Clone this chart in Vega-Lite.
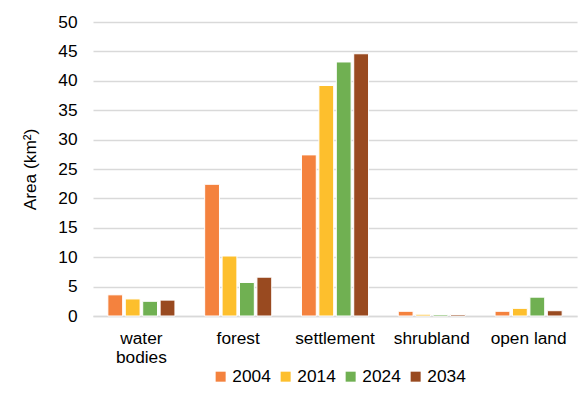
{
  "$schema": "https://vega.github.io/schema/vega-lite/v6.json",
  "width": 484,
  "height": 294,
  "autosize": {"type": "none"},
  "padding": {"left": 93, "top": 22, "right": 5, "bottom": 80},
  "background": "white",
  "data": {
    "values": [
      {"cover": "water bodies", "year": "2004", "area": 3.6},
      {"cover": "water bodies", "year": "2014", "area": 2.9},
      {"cover": "water bodies", "year": "2024", "area": 2.5},
      {"cover": "water bodies", "year": "2034", "area": 2.7},
      {"cover": "forest", "year": "2004", "area": 22.4},
      {"cover": "forest", "year": "2014", "area": 10.2},
      {"cover": "forest", "year": "2024", "area": 5.7},
      {"cover": "forest", "year": "2034", "area": 6.6},
      {"cover": "settlement", "year": "2004", "area": 27.4},
      {"cover": "settlement", "year": "2014", "area": 39.2},
      {"cover": "settlement", "year": "2024", "area": 43.2},
      {"cover": "settlement", "year": "2034", "area": 44.6},
      {"cover": "shrubland", "year": "2004", "area": 0.8},
      {"cover": "shrubland", "year": "2014", "area": 0.3},
      {"cover": "shrubland", "year": "2024", "area": 0.25},
      {"cover": "shrubland", "year": "2034", "area": 0.25},
      {"cover": "open land", "year": "2004", "area": 0.8},
      {"cover": "open land", "year": "2014", "area": 1.3},
      {"cover": "open land", "year": "2024", "area": 3.2},
      {"cover": "open land", "year": "2034", "area": 0.9}
    ]
  },
  "mark": {"type": "bar", "stroke": "white", "strokeWidth": 1},
  "encoding": {
    "x": {
      "field": "cover",
      "type": "nominal",
      "sort": null,
      "title": null,
      "scale": {"paddingInner": 0.28, "paddingOuter": 0.14},
      "axis": {
        "labelAngle": 0,
        "labelPadding": 13,
        "labelExpr": "datum.value == 'water bodies' ? ['water', 'bodies'] : datum.value",
        "labelLineHeight": 19,
        "labelBaseline": "top",
        "ticks": false,
        "domainColor": "#d9d9d9",
        "domainWidth": 1.5
      }
    },
    "xOffset": {
      "field": "year",
      "type": "nominal",
      "scale": {"paddingInner": 0.15, "paddingOuter": 0.075}
    },
    "y": {
      "field": "area",
      "type": "quantitative",
      "title": "Area (km²)",
      "scale": {"domain": [0, 50]},
      "axis": {
        "values": [0, 5, 10, 15, 20, 25, 30, 35, 40, 45, 50],
        "domain": false,
        "ticks": false,
        "labelPadding": 16,
        "titlePadding": 18,
        "gridColor": "#d9d9d9",
        "gridWidth": 1.3
      }
    },
    "color": {
      "field": "year",
      "type": "nominal",
      "title": null,
      "scale": {
        "domain": ["2004", "2014", "2024", "2034"],
        "range": ["#f4823e", "#fdbf2d", "#70b052", "#994a20"]
      },
      "legend": {
        "orient": "none",
        "legendX": 119,
        "legendY": 346,
        "direction": "horizontal",
        "symbolType": "square",
        "symbolSize": 100,
        "symbolStrokeWidth": 0,
        "labelOffset": 3,
        "columnPadding": 6
      }
    }
  },
  "config": {
    "font": "Liberation Sans",
    "view": {"stroke": null},
    "axis": {
      "labelFont": "Liberation Sans",
      "labelFontSize": 17.3,
      "labelColor": "#000000",
      "titleFont": "Liberation Sans",
      "titleFontSize": 17.3,
      "titleFontWeight": "normal",
      "titleColor": "#000000"
    },
    "legend": {
      "labelFont": "Liberation Sans",
      "labelFontSize": 17.3,
      "labelColor": "#000000"
    }
  }
}
